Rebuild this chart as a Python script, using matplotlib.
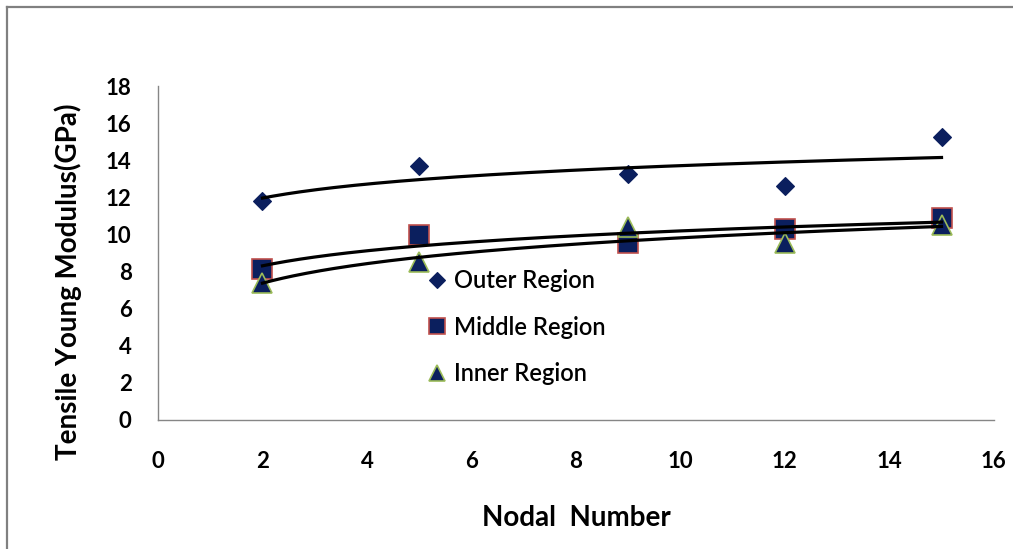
import numpy as np
import matplotlib
matplotlib.use("Agg")
import matplotlib.pyplot as plt
from matplotlib.lines import Line2D

plt.rcParams['font.family'] = ['Lato', 'DejaVu Sans']

# data
nodal = [2, 5, 9, 12, 15]
outer = [11.8, 13.7, 13.25, 12.6, 15.25]
middle = [8.15, 9.95, 9.55, 10.3, 10.9]
inner = [7.4, 8.5, 10.4, 9.55, 10.5]

navy = '#0b1f5e'

fig = plt.figure(figsize=(10.13, 5.49), dpi=100)
ax = fig.add_axes([0.156, 0.235, 0.825, 0.608])

series = [
    ('Outer Region', outer, dict(marker='D', ms=9, mfc=navy, mec=navy, mew=0.8)),
    ('Middle Region', middle, dict(marker='s', ms=14, mfc=navy, mec='#c0504d', mew=1.2)),
    ('Inner Region', inner, dict(marker='^', ms=14, mfc=navy, mec='#9bbb59', mew=1.2)),
]

x = np.array(nodal, dtype=float)
xs = np.linspace(x.min(), x.max(), 200)
for label, vals, style in series:
    ax.plot(nodal, vals, linestyle='none', label=label, zorder=3, **style)
    # logarithmic trendline, as in the original spreadsheet
    a, b = np.polyfit(np.log(x), np.array(vals), 1)
    ax.plot(xs, a * np.log(xs) + b, color='black', lw=2.3, zorder=4)

ax.set_xlim(0, 16)
ax.set_ylim(0, 18)
ax.set_xticks(range(0, 17, 2))
ax.set_yticks(range(0, 19, 2))
ax.tick_params(length=0, labelsize=16)
ax.tick_params(axis='x', pad=22)
ax.tick_params(axis='y', pad=19)
for t in ax.get_xticklabels() + ax.get_yticklabels():
    t.set_fontweight('bold')

for s in ['top', 'right']:
    ax.spines[s].set_visible(False)
for s in ['left', 'bottom']:
    ax.spines[s].set_color('#868686')
    ax.spines[s].set_linewidth(1.0)

leg = ax.legend(loc='center left', bbox_to_anchor=(0.322, 0.278), frameon=False,
                prop={'size': 17, 'weight': 'semibold'}, handlelength=0.85,
                handletextpad=0.3, labelspacing=1.0, borderpad=0, borderaxespad=0,
                markerscale=0.85)

fig.text(0.569, 0.056, 'Nodal  Number', ha='center', va='center', fontsize=20,
         fontweight='bold')
fig.text(0.067, 0.486, 'Tensile Young Modulus(GPa)', ha='center', va='center',
         rotation=90, fontsize=20, fontweight='bold')

# thin grey frame along the left and top edge of the picture
fig.add_artist(Line2D([7 / 1013, 7 / 1013], [0, 1 - 7 / 549], color='#808080', lw=1.6,
                      transform=fig.transFigure))
fig.add_artist(Line2D([7 / 1013, 1], [1 - 7 / 549, 1 - 7 / 549], color='#808080', lw=1.6,
                      transform=fig.transFigure))

fig.savefig('out.png', dpi=100)
